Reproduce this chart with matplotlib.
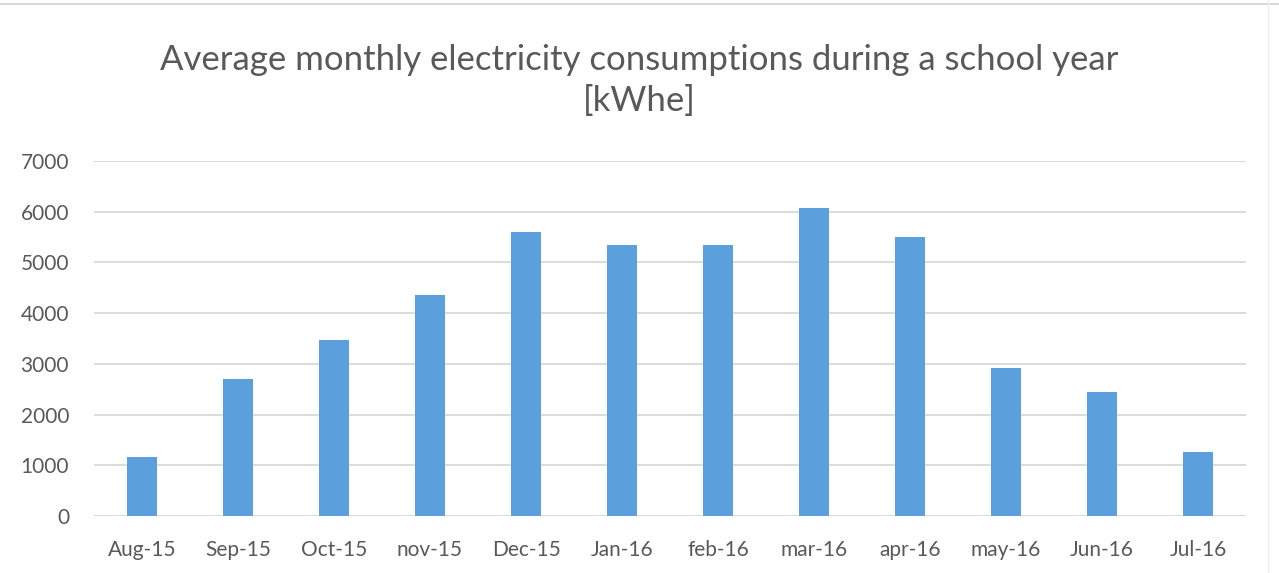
import matplotlib
matplotlib.use("Agg")
import matplotlib.pyplot as plt
from matplotlib.lines import Line2D

months = ["Aug-15", "Sep-15", "Oct-15", "nov-15", "Dec-15", "Jan-16",
          "feb-16", "mar-16", "apr-16", "may-16", "Jun-16", "Jul-16"]
consumption = [1170, 2700, 3470, 4360, 5600, 5345,
               5345, 6070, 5500, 2920, 2450, 1260]
y_ticks = [0, 1000, 2000, 3000, 4000, 5000, 6000, 7000]

plt.rcParams['font.family'] = ['Lato', 'DejaVu Sans']
text_color = "#595959"

fig = plt.figure(figsize=(12.79, 5.73), dpi=100)
ax = fig.add_axes([94 / 1279, 1 - 516 / 573, (1246 - 94) / 1279, (516 - 161) / 573])

x = range(len(months))
ax.bar(x, consumption, width=0.31, color="#5B9FDD", zorder=3)

ax.set_xlim(-0.5, len(months) - 0.5)
ax.set_ylim(0, 7000)
ax.set_yticks(y_ticks)
ax.set_yticklabels([str(v) for v in y_ticks])
ax.set_xticks(list(x))
ax.set_xticklabels(months)
ax.grid(axis="y", color="#D9D9D9", linewidth=1.3, zorder=0)
for s in ax.spines.values():
    s.set_visible(False)
ax.tick_params(axis="both", length=0, labelsize=15, colors=text_color)
ax.tick_params(axis="y", pad=18)
ax.tick_params(axis="x", pad=17)

fig.text(0.5, 1 - 60 / 573, "Average monthly electricity consumptions during a school year",
         ha="center", va="center", fontsize=25, color=text_color)
fig.text(0.5, 1 - 101 / 573, "[kWhe]", ha="center", va="center",
         fontsize=25, color=text_color)

# thin outer frame lines of the chart box
fig.add_artist(Line2D([0, 1], [1 - 4 / 573, 1 - 4 / 573], color="#D9D9D9",
                      linewidth=1.5, transform=fig.transFigure))
fig.add_artist(Line2D([1268 / 1279, 1268 / 1279], [0, 1], color="#EEEEEE",
                      linewidth=1.0, transform=fig.transFigure))

fig.savefig("out.png", dpi=100)
